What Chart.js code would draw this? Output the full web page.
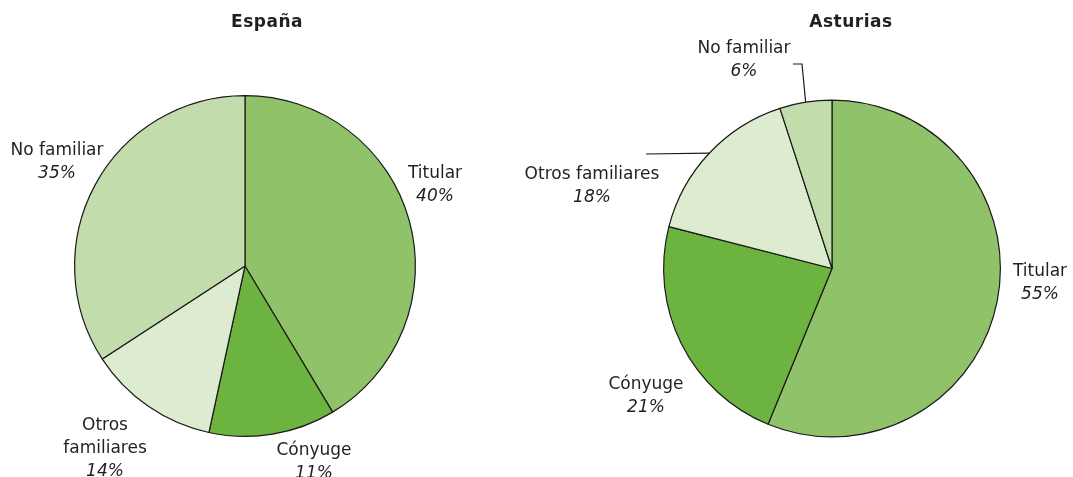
<!DOCTYPE html>
<html>
<head>
<meta charset="utf-8">
<script src="https://cdn.jsdelivr.net/npm/chart.js@4.4.0/dist/chart.umd.min.js"></script>
<style>
    body { margin: 0; background: #fff; }
    #wrap { position: relative; width: 1073px; height: 477px; }
    .box { position: absolute; left: 0; top: 0; width: 1073px; height: 477px; }
</style>
</head>
<body>
<div id="wrap">
    <div class="box"><canvas id="chartEs"></canvas></div>
    <div class="box"><canvas id="chartAs"></canvas></div>
</div>
<script>
// Data: slice shares as drawn, and the printed percentage labels
const categories = ["Titular", "Cónyuge", "Otros familiares", "No familiar"];
const espanaShares = [41.4, 12.0, 12.4, 34.2];
const espanaPctLabels = ["40%", "11%", "14%", "35%"];
const asturiasShares = [56.2, 22.8, 16.0, 5.0];
const asturiasPctLabels = ["55%", "21%", "18%", "6%"];
const sliceColors = ["#90c369", "#6db33f", "#ddebd1", "#c2dcab"];

const textColor = "#231f20";
const labelFont = "17px 'DejaVu Sans', sans-serif";
const pctFont = "italic 17px 'DejaVu Sans', sans-serif";
const titleFont = "bold 17px 'DejaVu Sans', sans-serif";

// Label layout (page coordinates): text lines, centre x, first baseline y
const espanaLabels = [
    { lines: ["Titular"], x: 435, y: 178 },
    { lines: ["Cónyuge"], x: 314, y: 455 },
    { lines: ["Otros", "familiares"], x: 105, y: 430 },
    { lines: ["No familiar"], x: 57, y: 155 }
];
const asturiasLabels = [
    { lines: ["Titular"], x: 1040, y: 276 },
    { lines: ["Cónyuge"], x: 646, y: 389 },
    { lines: ["Otros familiares"], x: 592, y: 179, leader: [[646, 154]] },
    { lines: ["No familiar"], x: 744, y: 53, leader: [[802, 64], [793, 64]] }
];

// Draws title, labels with percentages, and leader lines
const labelPlugin = {
    id: "pieLabels",
    afterDraw(chart, args, opts) {
        let ctx = chart.ctx;
        let meta = chart.getDatasetMeta(0);
        ctx.save();
        ctx.fillStyle = textColor;
        ctx.textAlign = "center";
        ctx.textBaseline = "alphabetic";

        ctx.font = titleFont;
        ctx.letterSpacing = "0.5px";
        ctx.fillText(opts.title, opts.titleX, 27);
        ctx.letterSpacing = "0px";

        opts.labels.forEach((lab, i) => {
            let y = lab.y;
            ctx.font = labelFont;
            lab.lines.forEach(line => {
                ctx.fillText(line, lab.x, y);
                y += 23;
            });
            ctx.font = pctFont;
            ctx.fillText(opts.pct[i], lab.x, y);

            if (lab.leader) {
                let arc = meta.data[i];
                let a = (arc.startAngle + arc.endAngle) / 2;
                let sx = arc.x + Math.cos(a) * arc.outerRadius;
                let sy = arc.y + Math.sin(a) * arc.outerRadius;
                ctx.strokeStyle = "#1a1a1a";
                ctx.lineWidth = 1.2;
                ctx.beginPath();
                ctx.moveTo(sx, sy);
                lab.leader.forEach(p => ctx.lineTo(p[0], p[1]));
                ctx.stroke();
            }
        });
        ctx.restore();
    }
};

function makePie(canvasId, values, padding, labels, pct, title, titleX) {
    let ctx = document.getElementById(canvasId).getContext("2d");
    return new Chart(ctx, {
        type: "pie",
        data: {
            labels: categories,
            datasets: [{
                data: values,
                backgroundColor: sliceColors,
                borderColor: "#1a1a1a",
                borderWidth: 1.2
            }]
        },
        options: {
            responsive: true,
            maintainAspectRatio: false,
            animation: false,
            events: [],
            layout: { padding: padding },
            plugins: {
                legend: { display: false },
                tooltip: { enabled: false },
                pieLabels: { labels: labels, pct: pct, title: title, titleX: titleX }
            }
        },
        plugins: [labelPlugin]
    });
}

document.addEventListener("DOMContentLoaded", function () {
    makePie("chartEs", espanaShares, { left: 74, right: 657, top: 95, bottom: 40 }, espanaLabels, espanaPctLabels, "España", 267);
    makePie("chartAs", asturiasShares, { left: 663, right: 72, top: 97, bottom: 37 }, asturiasLabels, asturiasPctLabels, "Asturias", 851);
});
</script>
</body>
</html>
